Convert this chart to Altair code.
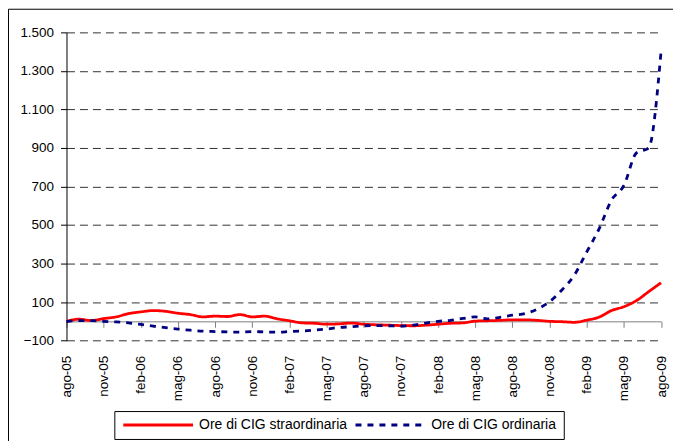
import altair as alt
import pandas as pd

# Month labels (Italian abbreviations), Aug 2005 .. Aug 2009
abbr = ["gen", "feb", "mar", "apr", "mag", "giu", "lug", "ago", "set", "ott", "nov", "dic"]
months = []
for k in range(49):
    m = (7 + k) % 12
    y = 5 + (7 + k) // 12
    months.append(f"{abbr[m]}-{y:02d}")

tick_labels = months[::3]

series_names = ["Ore di CIG straordinaria", "Ore di CIG ordinaria"]

straordinaria = [0, 11, 4, 14, 23, 40, 49, 56, 52, 42, 35, 23, 27, 25, 35, 23, 27, 13,
                 3, -8, -10, -15, -13, -9, -15, -18, -20, -22, -23, -20, -15, -10, -8,
                 1, 3, 5, 8, 8, 5, 0, -2, -5, 6, 22, 56, 76, 107, 154, 200]

ordinaria = [-2, 4, 4, 0, -3, -8, -16, -25, -33, -40, -46, -51, -53, -55, -56, -53, -55,
             -56, -53, -50, -46, -40, -32, -28, -23, -22, -23, -25, -20, -9, 0, 5, 15,
             23, 13, 21, 32, 40, 63, 102, 163, 240, 360, 480, 629, 705, 873, 900, 1400]

y_ticks = [-100, 100, 300, 500, 700, 900, 1100, 1300, 1500]

rows = []
for name, vals in zip(series_names, [straordinaria, ordinaria]):
    for mo, v in zip(months, vals):
        rows.append({"mese": mo, "serie": name, "valore": v})
df = pd.DataFrame(rows)

W = 596.6
H = 309.3
zero_offset = -(H * 100 / 1600)

FONT = "Liberation Sans"

legend = alt.Legend(
    title=None, orient="none", legendX=48, legendY=380, direction="horizontal",
    strokeColor="black", padding=7, symbolType="M-1,0H13", symbolSize=100,
    symbolStrokeWidth=3, labelFontSize=14, labelFont=FONT, labelColor="black",
    labelOffset=64, columnPadding=2, labelLimit=300,
)

lines = alt.Chart(df).mark_line(interpolate="monotone", strokeWidth=2.8).encode(
    x=alt.X("mese:N", sort=months, scale=alt.Scale(type="point", padding=0),
            axis=alt.Axis(values=tick_labels, title=None, labelAngle=-90,
                          labelAlign="right", labelBaseline="middle",
                          offset=zero_offset, labelPadding=28, tickSize=6,
                          tickColor="#808080", domainColor="#808080",
                          labelFontSize=13.5, labelFont=FONT, labelColor="black",
                          grid=False)),
    y=alt.Y("valore:Q", scale=alt.Scale(domain=[-100, 1500], nice=False, zero=False),
            axis=alt.Axis(values=y_ticks, title=None, tickSize=6, tickColor="black",
                          domainColor="black", labelPadding=7, labelFontSize=13.5,
                          labelFont=FONT, labelColor="black",
                          labelExpr="replace(format(datum.value, ','), ',', '.')",
                          grid=True, gridDash=[8, 5], gridColor="#333333",
                          gridWidth=1)),
    color=alt.Color("serie:N", scale=alt.Scale(domain=series_names,
                                               range=["#ff0000", "#000080"]),
                    legend=legend),
    strokeDash=alt.StrokeDash("serie:N", scale=alt.Scale(domain=series_names,
                                                         range=[[1, 0], [6, 6]]),
                              legend=legend),
)

frame = alt.Chart(pd.DataFrame({"a": [0]})).mark_rect(
    fill=None, stroke="black", strokeWidth=1
).encode(
    x=alt.value(-58.2), x2=alt.value(610.8), y=alt.value(-23.2), y2=alt.value(430)
)

chart = alt.layer(frame, lines).properties(
    width=W, height=H,
    padding={"left": 58.7, "top": 23.7, "right": 12, "bottom": 100},
    autosize=alt.AutoSizeParams(type="none"),
).configure_view(stroke=None)

chart.save("out.html", embed_options={"renderer": "svg", "actions": False})
